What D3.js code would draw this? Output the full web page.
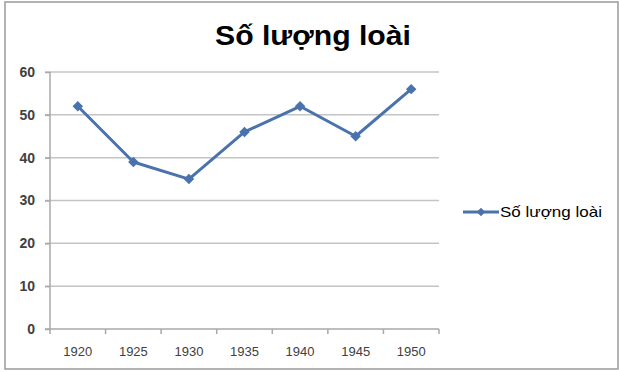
<!DOCTYPE html>
<html><head><meta charset="utf-8">
<script src="https://cdn.jsdelivr.net/npm/d3@7"></script>
<style>body{margin:0;background:#fff}svg{display:block}</style>
</head><body>
<script>
const categories = ["1920","1925","1930","1935","1940","1945","1950"];
const values = [52, 39, 35, 46, 52, 45, 56];
const yTicks = [0, 10, 20, 30, 40, 50, 60];
const seriesName = "Số lượng loài";
const title = "Số lượng loài";

const W = 619, H = 372;
const svg = d3.select("body").append("svg").attr("width", W).attr("height", H);
svg.append("rect").attr("width", W).attr("height", H).attr("fill", "#fff");

// chart frame
svg.append("rect").attr("x", 5).attr("y", 2).attr("width", 613).attr("height", 367)
  .attr("fill", "#fff").attr("stroke", "#9a9a9a").attr("stroke-width", 1.5);

const x = d3.scaleBand().domain(categories).range([50, 439]);
const y = d3.scaleLinear().domain([0, 60]).range([329, 72]);

// gridlines
svg.append("g").selectAll("line").data(yTicks.filter(d => d > 0)).join("line")
  .attr("x1", 45).attr("x2", 439)
  .attr("y1", d => y(d)).attr("y2", d => y(d))
  .attr("stroke", "#c4c4c4").attr("stroke-width", 1.5);

// y axis
const yAxis = svg.append("g").attr("transform", "translate(50,0)")
  .call(d3.axisLeft(y).tickValues(yTicks).tickSize(5).tickPadding(10));
yAxis.select(".domain").attr("stroke", "#a8a8a8").attr("stroke-width", 1.5).attr("d", `M0,${y(60)}V${y(0)}`);
yAxis.selectAll(".tick line").attr("stroke", "#a8a8a8").attr("stroke-width", 1.5);
yAxis.selectAll("text").attr("font-family", "Liberation Sans, Arial, sans-serif")
  .attr("font-size", 14).attr("fill", "#404040").attr("font-weight", "bold");

// x axis
const xAxis = svg.append("g").attr("transform", `translate(0,${y(0)})`)
  .call(d3.axisBottom(x).tickSize(0).tickPadding(18));
xAxis.select(".domain").attr("stroke", "#a8a8a8").attr("stroke-width", 1.5).attr("d", "M45,0H439");
xAxis.selectAll("text").attr("font-family", "Liberation Sans, Arial, sans-serif")
  .attr("font-size", 13).attr("fill", "#404040");
// category separator ticks
svg.append("g").selectAll("line").data(categories.concat(["__end"])).join("line")
  .attr("x1", (d, i) => i < categories.length ? x(d) : x.range()[1])
  .attr("x2", (d, i) => i < categories.length ? x(d) : x.range()[1])
  .attr("y1", y(0)).attr("y2", y(0) + 5)
  .attr("stroke", "#a8a8a8").attr("stroke-width", 1.5);

const cx = d => x(d) + x.bandwidth() / 2;
const color = "#4a72ad";

svg.append("path").datum(values)
  .attr("fill", "none").attr("stroke", color).attr("stroke-width", 3).attr("stroke-linejoin", "round")
  .attr("d", d3.line().x((d, i) => cx(categories[i])).y(d => y(d)));

const diamond = d3.symbol().type(d3.symbolDiamond2).size(70);
svg.append("g").selectAll("path").data(values).join("path")
  .attr("transform", (d, i) => `translate(${cx(categories[i])},${y(d)})`)
  .attr("d", diamond).attr("fill", color);

// title
svg.append("text").attr("x", 313).attr("y", 45).attr("text-anchor", "middle")
  .attr("font-family", "Liberation Sans, Arial, sans-serif").attr("font-weight", "bold")
  .attr("font-size", 28).attr("fill", "#000")
  .attr("textLength", 196).attr("lengthAdjust", "spacingAndGlyphs")
  .text(title);

// legend
const lg = svg.append("g");
lg.append("line").attr("x1", 463).attr("x2", 499).attr("y1", 212).attr("y2", 212)
  .attr("stroke", color).attr("stroke-width", 3);
lg.append("path").attr("transform", "translate(481,212)")
  .attr("d", d3.symbol().type(d3.symbolDiamond2).size(45)).attr("fill", color);
lg.append("text").attr("x", 500).attr("y", 217)
  .attr("font-family", "Liberation Sans, Arial, sans-serif").attr("font-size", 15).attr("fill", "#000")
  .attr("textLength", 102).attr("lengthAdjust", "spacingAndGlyphs")
  .text(seriesName);
</script>
</body></html>
